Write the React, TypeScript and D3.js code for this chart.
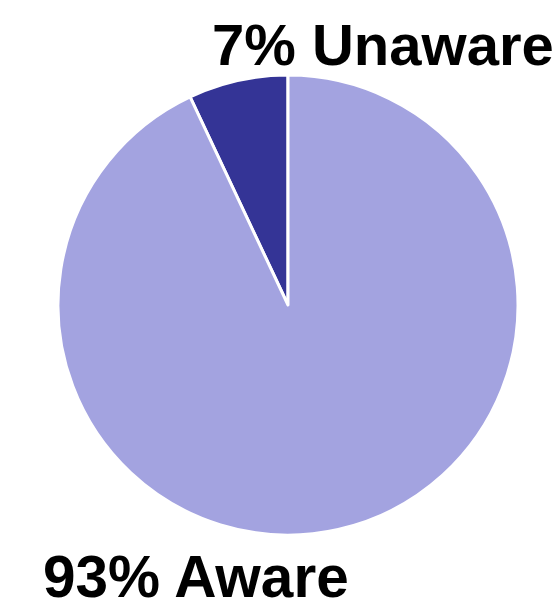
import React from "react";
import * as d3 from "d3";

const categories = ["Unaware", "Aware"];
const values = [7, 93];
const labels = ["7% Unaware", "93% Aware"];
const colors = ["#343496", "#A3A3E0"];

export default function App() {
  const width = 553;
  const height = 605;
  const cx = 288;
  const cy = 305;
  const r = 230;
  const pie = d3
    .pie<number>()
    .sort(null)
    .startAngle(-2 * Math.PI * (values[0] / 100))
    .endAngle(2 * Math.PI - 2 * Math.PI * (values[0] / 100));
  const arcs = pie(values);
  const arc = d3.arc<d3.PieArcDatum<number>>().innerRadius(0).outerRadius(r);
  return (
    <svg
      width={width}
      height={height}
      style={{ position: "absolute", left: 0, top: 0 }}
    >
      <g transform={`translate(${cx},${cy})`}>
        {arcs.map((a, i) => (
          <path
            key={categories[i]}
            d={arc(a) || ""}
            fill={colors[i]}
            stroke="#ffffff"
            strokeWidth={3}
            strokeLinejoin="round"
          />
        ))}
      </g>
      <text
        x={212}
        y={65}
        fontFamily="Liberation Sans, Arial, sans-serif"
        fontWeight="bold"
        fontSize={58}
        fill="#000"
      >
        {labels[0]}
      </text>
      <text
        x={43}
        y={597}
        fontFamily="Liberation Sans, Arial, sans-serif"
        fontWeight="bold"
        fontSize={58.5}
        fill="#000"
      >
        {labels[1]}
      </text>
    </svg>
  );
}
